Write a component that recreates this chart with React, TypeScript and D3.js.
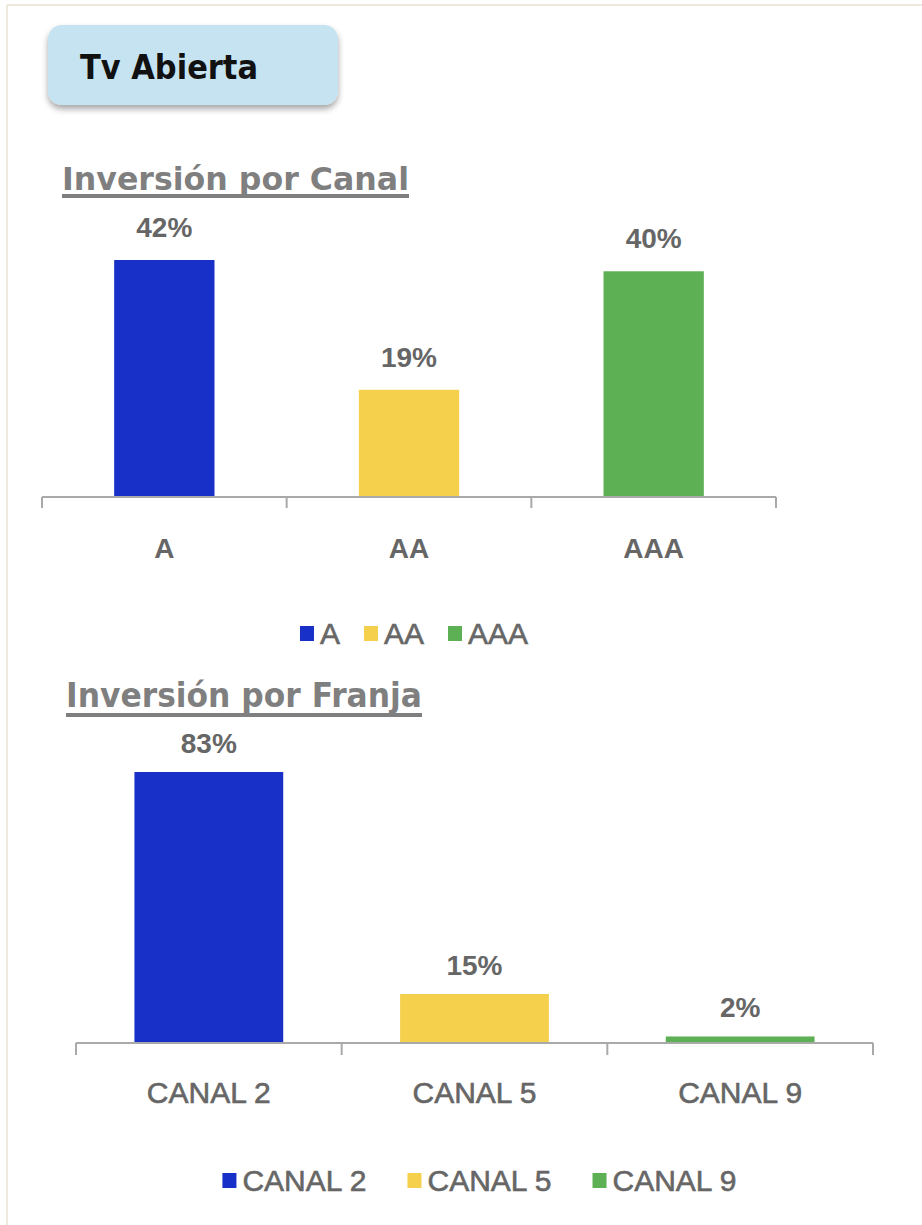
import React from 'react';
import * as d3 from 'd3';

const PAGE_TITLE = 'Tv Abierta';
const CANAL_TITLE = 'Inversión por Canal';
const FRANJA_TITLE = 'Inversión por Franja';

const canalCategories = ['A', 'AA', 'AAA'];
const canalValues = [42, 19, 40];

const franjaCategories = ['CANAL 2', 'CANAL 5', 'CANAL 9'];
const franjaValues = [83, 15, 2];

const seriesColors = ['#1830C8', '#F5D04C', '#5DB053'];

const FONT = '"Liberation Sans", Arial, sans-serif';
const TITLE_FONT = '"DejaVu Sans", Verdana, sans-serif';
const GRAY = '#666666';
const AXIS = '#a9a9a9';

let measureCtx: CanvasRenderingContext2D | null = null;
function measure(text: string, font: string): number {
  if (!measureCtx) {
    const c = document.createElement('canvas');
    measureCtx = c.getContext('2d');
  }
  if (!measureCtx) return text.length * 14;
  measureCtx.font = font;
  return measureCtx.measureText(text).width;
}

type PanelProps = {
  cats: string[];
  values: number[];
  x0: number;
  x1: number;
  baseline: number;
  maxTopY: number;
  barFrac: number;
  tickLen: number;
  labelGap: number;
  valueFont: number;
  catFont: number;
  catWeight: string;
  catStroke: number;
  catY: number;
  legendY: number;
  legendCenter: number;
  legendFont: number;
  legendGap: number;
};

function BarPanel(p: PanelProps) {
  const maxV = d3.max(p.values) as number;
  const x = d3.scaleBand<string>().domain(p.cats).range([p.x0, p.x1]).padding(0);
  const y = d3.scaleLinear().domain([0, maxV]).range([p.baseline, p.maxTopY]);
  const bw = x.bandwidth() * p.barFrac;
  const ticks = [...p.cats.map((c) => x(c) as number), p.x1];

  const sq = 14;
  const sqGap = 6;
  const legendFontStr = `${p.legendFont}px "Liberation Sans", Arial, sans-serif`;
  const widths = p.cats.map((c) => measure(c, legendFontStr));
  const itemW = widths.map((w) => sq + sqGap + w);
  const total = d3.sum(itemW) + p.legendGap * (p.cats.length - 1);
  let cursor = p.legendCenter - total / 2;
  const legendItems = p.cats.map((c, i) => {
    const item = { c, i, x: cursor };
    cursor += itemW[i] + p.legendGap;
    return item;
  });

  return (
    <g>
      {p.values.map((v, i) => {
        const cx = (x(p.cats[i]) as number) + x.bandwidth() / 2;
        return (
          <g key={p.cats[i]}>
            <rect x={cx - bw / 2} y={y(v)} width={bw} height={p.baseline - y(v)} fill={seriesColors[i]} />
            <text
              x={cx}
              y={y(v) - p.labelGap}
              textAnchor="middle"
              fontFamily={FONT}
              fontWeight="bold"
              fontSize={p.valueFont}
              fill={GRAY}
            >
              {`${v}%`}
            </text>
            <text
              x={cx}
              y={p.catY}
              textAnchor="middle"
              fontFamily={FONT}
              fontWeight={p.catWeight}
              fontSize={p.catFont}
              fill={GRAY}
              stroke={GRAY}
              strokeWidth={p.catStroke}
            >
              {p.cats[i]}
            </text>
          </g>
        );
      })}
      <line x1={p.x0} x2={p.x1} y1={p.baseline} y2={p.baseline} stroke={AXIS} strokeWidth={2} />
      {ticks.map((t, i) => (
        <line key={i} x1={t} x2={t} y1={p.baseline} y2={p.baseline + p.tickLen} stroke={AXIS} strokeWidth={2} />
      ))}
      {legendItems.map((it) => (
        <g key={it.c}>
          <rect x={it.x} y={p.legendY - sq / 2} width={sq} height={sq + 1} fill={seriesColors[it.i]} />
          <text
            x={it.x + sq + sqGap}
            y={p.legendY}
            dominantBaseline="central"
            fontFamily={FONT}
            fontSize={p.legendFont}
            fill={GRAY}
            stroke={GRAY}
            strokeWidth={0.6}
          >
            {it.c}
          </text>
        </g>
      ))}
    </g>
  );
}

function SectionTitle({ text, x, y, width, size, ulY }: { text: string; x: number; y: number; width: number; size: number; ulY: number }) {
  return (
    <g>
      <text
        x={x}
        y={y}
        fontFamily={TITLE_FONT}
        fontWeight="bold"
        fontSize={size}
        fill="#7f7f7f"
        textLength={width}
        lengthAdjust="spacingAndGlyphs"
      >
        {text}
      </text>
      <rect x={x} y={ulY} width={width} height={4} fill="#7f7f7f" />
    </g>
  );
}

export default function App() {
  return (
    <svg
      width={922}
      height={1225}
      style={{ position: 'absolute', left: 0, top: 0, background: '#ffffff' }}
    >
      <defs>
        <filter id="shadow" x="-20%" y="-30%" width="140%" height="170%">
          <feDropShadow dx="0" dy="4" stdDeviation="3" floodColor="#000" floodOpacity="0.35" />
        </filter>
      </defs>
      <rect x={0} y={0} width={922} height={1225} fill="#fff" />
      <line x1={7} x2={922} y1={5} y2={5} stroke="#efe9dd" strokeWidth={2} />
      <line x1={7} x2={7} y1={5} y2={1225} stroke="#efe9dd" strokeWidth={2} />

      <rect x={48} y={25} width={290} height={80} rx={14} ry={14} fill="#c5e3f0" filter="url(#shadow)" />
      <text
        x={80}
        y={79}
        fontFamily={TITLE_FONT}
        fontWeight="bold"
        fontSize={34}
        fill="#111"
        textLength={178}
        lengthAdjust="spacingAndGlyphs"
      >
        {PAGE_TITLE}
      </text>

      <SectionTitle text={CANAL_TITLE} x={62} y={190} width={347} size={32} ulY={194} />
      <BarPanel
        cats={canalCategories}
        values={canalValues}
        x0={42}
        x1={776}
        baseline={497}
        maxTopY={260}
        barFrac={0.41}
        tickLen={11}
        labelGap={23}
        valueFont={28}
        catFont={28}
        catWeight="bold"
        catStroke={0}
        catY={558}
        legendY={633}
        legendCenter={414}
        legendFont={30}
        legendGap={24}
      />

      <SectionTitle text={FRANJA_TITLE} x={66} y={707} width={356} size={33} ulY={713} />
      <BarPanel
        cats={franjaCategories}
        values={franjaValues}
        x0={76}
        x1={873}
        baseline={1043}
        maxTopY={772}
        barFrac={0.56}
        tickLen={12}
        labelGap={19}
        valueFont={28}
        catFont={30}
        catWeight="normal"
        catStroke={0.6}
        catY={1103}
        legendY={1180}
        legendCenter={480}
        legendFont={30}
        legendGap={40}
      />
    </svg>
  );
}
